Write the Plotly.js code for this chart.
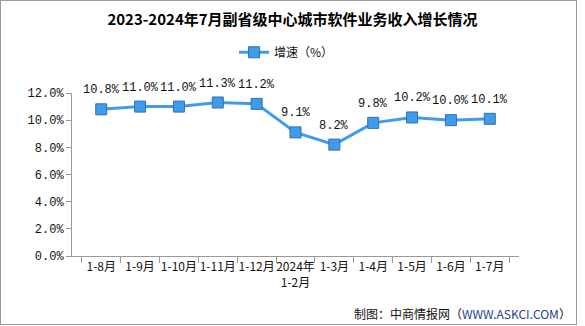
<!DOCTYPE html>
<html><head><meta charset="utf-8">
<script src="https://cdn.plot.ly/plotly-3.0.1.min.js"></script>
<style>
html,body{margin:0;padding:0;background:#fff;}
#wrap{position:relative;width:585px;height:326px;}
#frame{position:absolute;left:0;top:0;width:575px;height:323px;border:1px solid #9a9a9a;pointer-events:none;}
#chart{position:absolute;left:0;top:0;width:585px;height:326px;}
</style>
</head><body>
<div id="wrap"><div id="chart"></div><div id="frame"></div></div>
<script>
var categories = ["1-8月","1-9月","1-10月","1-11月","1-12月","2024年<br>1-2月","1-3月","1-4月","1-5月","1-6月","1-7月"];
var growth = [10.8, 11.0, 11.0, 11.3, 11.2, 9.1, 8.2, 9.8, 10.2, 10.0, 10.1];
var labels = growth.map(function(v){return v.toFixed(1) + "%";});
var yTicks = [0,2,4,6,8,10,12];
var yTickText = yTicks.map(function(v){return v.toFixed(1) + "%";});

var mono = "'Liberation Mono', 'DejaVu Sans Mono', 'Noto Sans CJK SC', monospace";
var trace = {
  x: categories, y: growth, type: "scatter", mode: "lines+markers",
  name: "增速（%）",
  line: {color: "#3f9ced", width: 3},
  marker: {symbol: "square", size: 11, color: "#3f9ced", line: {color: "#2f6fb0", width: 1}},
  cliponaxis: false
};
var annos = categories.map(function(c, i){
  return {x: c, y: growth[i], xref: "x", yref: "y", text: labels[i], showarrow: false,
          yshift: 19, xanchor: "center", yanchor: "middle",
          font: {family: mono, size: 12, color: "#111"}};
});
annos.push({text: "制图：中商情报网（<span style='color:#1f3f8f'>WWW.ASKCI.COM</span>）", xref: "paper", yref: "paper",
            x: 1.12, xanchor: "right", y: -0.35, yanchor: "middle", showarrow: false,
            font: {family: "'Noto Sans CJK SC', sans-serif", size: 12, color: "#111"}});
var layout = {
  width: 585, height: 326,
  margin: {l: 72, r: 66, t: 93, b: 70},
  paper_bgcolor: "rgba(0,0,0,0)", plot_bgcolor: "rgba(0,0,0,0)",
  title: {text: "<b>2023-2024年7月副省级中心城市软件业务收入增长情况</b>", x: 0.5, xanchor: "center", y: 0.94, yanchor: "middle",
          font: {family: "'Noto Sans CJK SC', sans-serif", size: 15, color: "#000"}},
  showlegend: true,
  legend: {orientation: "h", x: 0.48, xanchor: "center", y: 1.25, yanchor: "middle",
           font: {family: "'Noto Sans CJK SC', sans-serif", size: 12, color: "#111"}},
  xaxis: {type: "category", showline: true, linecolor: "#999", linewidth: 1, showgrid: false,
          ticks: "outside", tickson: "boundaries", ticklen: 6, tickcolor: "#999",
          tickfont: {family: "'Noto Sans CJK SC', sans-serif", size: 12, color: "#111"},
          tickangle: 0, fixedrange: true},
  yaxis: {range: [0, 12], tickvals: yTicks, ticktext: yTickText, showline: true, linecolor: "#999", linewidth: 1,
          showgrid: false, zeroline: false, ticks: "outside", ticklen: 5, tickcolor: "#999",
          tickfont: {family: mono, size: 12, color: "#111"}},
  annotations: annos
};
Plotly.newPlot("chart", [trace], layout, {displayModeBar: false, staticPlot: true});
</script>
</body></html>
